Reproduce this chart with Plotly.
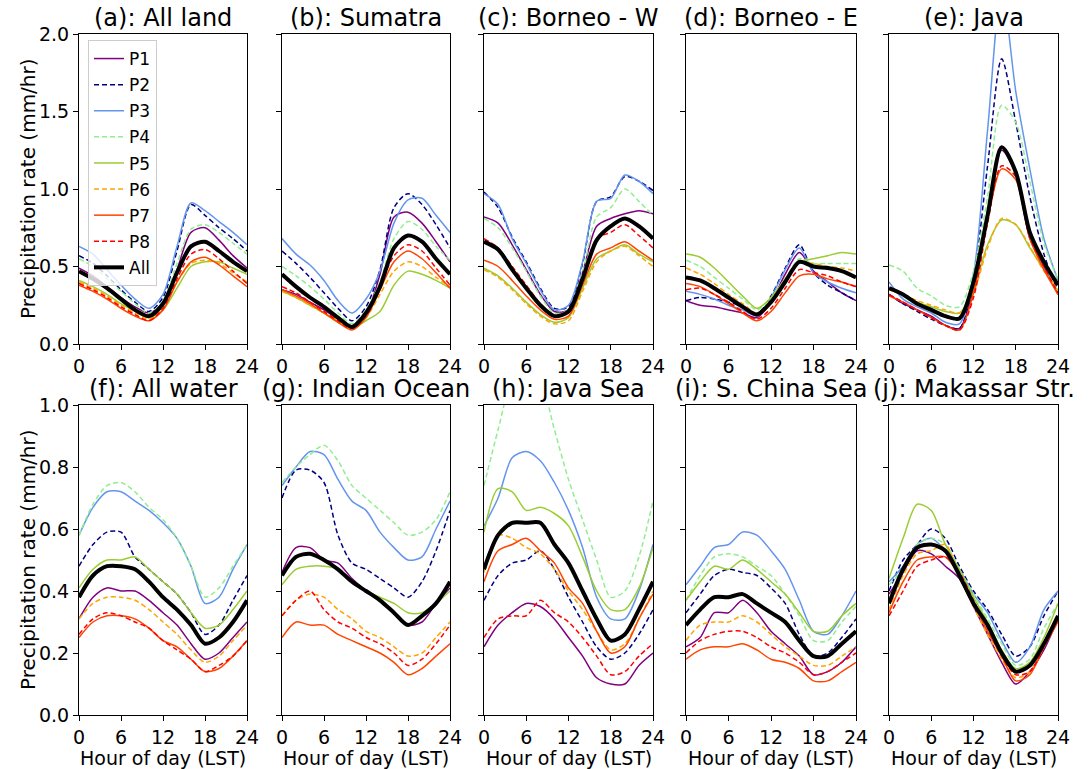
import plotly.graph_objects as go

# ---------------- data ----------------
hours = [0, 2, 4, 6, 8, 10, 12, 14, 16, 18, 20, 22, 24]
series_names = ["P1", "P2", "P3", "P4", "P5", "P6", "P7", "P8", "All"]
panel_titles = ["(a): All land", "(b): Sumatra", "(c): Borneo - W", "(d): Borneo - E", "(e): Java",
                "(f): All water", "(g): Indian Ocean", "(h): Java Sea", "(i): S. China Sea", "(j): Makassar Str."]
x_ticks = [0, 6, 12, 18, 24]
y_ticks_top = [0.0, 0.5, 1.0, 1.5, 2.0]
y_ticks_bottom = [0.0, 0.2, 0.4, 0.6, 0.8, 1.0]

# rows: P1..P8, All
all_land = [
    [0.49, 0.44, 0.37, 0.30, 0.24, 0.20, 0.26, 0.48, 0.72, 0.75, 0.67, 0.57, 0.49],
    [0.57, 0.52, 0.44, 0.35, 0.27, 0.21, 0.30, 0.60, 0.90, 0.83, 0.75, 0.68, 0.60],
    [0.63, 0.58, 0.48, 0.38, 0.29, 0.23, 0.32, 0.63, 0.91, 0.86, 0.79, 0.72, 0.64],
    [0.55, 0.50, 0.42, 0.34, 0.26, 0.20, 0.28, 0.52, 0.74, 0.77, 0.72, 0.65, 0.58],
    [0.41, 0.37, 0.32, 0.26, 0.21, 0.17, 0.22, 0.36, 0.50, 0.53, 0.53, 0.49, 0.45],
    [0.40, 0.36, 0.31, 0.25, 0.20, 0.16, 0.23, 0.40, 0.52, 0.54, 0.52, 0.46, 0.40],
    [0.38, 0.34, 0.29, 0.23, 0.18, 0.15, 0.22, 0.40, 0.53, 0.56, 0.51, 0.44, 0.37],
    [0.39, 0.35, 0.30, 0.24, 0.19, 0.15, 0.23, 0.42, 0.58, 0.61, 0.55, 0.47, 0.39],
    [0.47, 0.42, 0.36, 0.29, 0.22, 0.18, 0.26, 0.46, 0.63, 0.66, 0.60, 0.53, 0.47],
]
sumatra = [
    [0.35, 0.32, 0.27, 0.22, 0.16, 0.11, 0.19, 0.45, 0.82, 0.85, 0.78, 0.66, 0.53],
    [0.60, 0.52, 0.43, 0.33, 0.23, 0.15, 0.24, 0.48, 0.88, 0.97, 0.90, 0.77, 0.62],
    [0.68, 0.58, 0.51, 0.41, 0.28, 0.20, 0.29, 0.47, 0.78, 0.93, 0.94, 0.83, 0.72],
    [0.50, 0.44, 0.37, 0.29, 0.20, 0.13, 0.22, 0.40, 0.68, 0.79, 0.74, 0.63, 0.54],
    [0.34, 0.30, 0.25, 0.20, 0.14, 0.10, 0.15, 0.21, 0.38, 0.47, 0.45, 0.41, 0.36],
    [0.34, 0.30, 0.25, 0.20, 0.15, 0.10, 0.17, 0.32, 0.47, 0.53, 0.50, 0.43, 0.37],
    [0.35, 0.31, 0.26, 0.20, 0.14, 0.09, 0.17, 0.35, 0.53, 0.60, 0.55, 0.46, 0.36],
    [0.37, 0.33, 0.27, 0.21, 0.15, 0.10, 0.18, 0.37, 0.57, 0.64, 0.60, 0.49, 0.38],
    [0.45, 0.37, 0.30, 0.24, 0.17, 0.11, 0.20, 0.37, 0.62, 0.70, 0.66, 0.55, 0.45],
]
borneo_w = [
    [0.82, 0.78, 0.64, 0.48, 0.32, 0.21, 0.22, 0.46, 0.76, 0.81, 0.84, 0.86, 0.84],
    [0.98, 0.88, 0.69, 0.53, 0.36, 0.23, 0.24, 0.52, 0.92, 0.95, 1.08, 1.05, 0.99],
    [0.97, 0.90, 0.68, 0.52, 0.35, 0.22, 0.25, 0.53, 0.92, 0.94, 1.09, 1.05, 0.97],
    [0.81, 0.75, 0.62, 0.47, 0.31, 0.20, 0.22, 0.46, 0.82, 0.88, 1.00, 0.92, 0.83],
    [0.49, 0.44, 0.36, 0.27, 0.19, 0.14, 0.17, 0.36, 0.55, 0.60, 0.64, 0.58, 0.53],
    [0.48, 0.43, 0.35, 0.26, 0.18, 0.13, 0.15, 0.34, 0.53, 0.60, 0.63, 0.57, 0.50],
    [0.54, 0.50, 0.41, 0.31, 0.22, 0.16, 0.18, 0.38, 0.58, 0.62, 0.66, 0.60, 0.54],
    [0.68, 0.62, 0.50, 0.38, 0.26, 0.18, 0.20, 0.43, 0.68, 0.72, 0.77, 0.70, 0.62],
    [0.66, 0.61, 0.48, 0.36, 0.25, 0.18, 0.21, 0.42, 0.67, 0.76, 0.81, 0.76, 0.68],
]
borneo_e = [
    [0.28, 0.25, 0.24, 0.22, 0.20, 0.17, 0.27, 0.45, 0.59, 0.47, 0.40, 0.33, 0.28],
    [0.28, 0.30, 0.29, 0.27, 0.24, 0.19, 0.31, 0.49, 0.64, 0.46, 0.38, 0.33, 0.28],
    [0.34, 0.32, 0.29, 0.25, 0.22, 0.18, 0.30, 0.48, 0.62, 0.46, 0.40, 0.36, 0.33],
    [0.54, 0.50, 0.43, 0.36, 0.29, 0.22, 0.29, 0.42, 0.55, 0.52, 0.52, 0.52, 0.52],
    [0.58, 0.56, 0.49, 0.40, 0.31, 0.23, 0.30, 0.42, 0.53, 0.55, 0.57, 0.59, 0.58],
    [0.49, 0.45, 0.39, 0.32, 0.26, 0.20, 0.27, 0.40, 0.52, 0.52, 0.50, 0.49, 0.47],
    [0.39, 0.37, 0.32, 0.26, 0.20, 0.15, 0.21, 0.33, 0.44, 0.45, 0.42, 0.40, 0.37],
    [0.35, 0.36, 0.32, 0.27, 0.21, 0.16, 0.23, 0.36, 0.48, 0.46, 0.44, 0.40, 0.37],
    [0.43, 0.41, 0.36, 0.30, 0.24, 0.19, 0.27, 0.40, 0.53, 0.50, 0.49, 0.47, 0.43],
]
java = [
    [0.32, 0.26, 0.22, 0.18, 0.12, 0.10, 0.35, 0.85, 1.25, 1.10, 0.68, 0.50, 0.32],
    [0.32, 0.26, 0.21, 0.16, 0.12, 0.10, 0.42, 1.15, 1.84, 1.43, 0.95, 0.58, 0.33],
    [0.40, 0.29, 0.24, 0.20, 0.14, 0.13, 0.45, 1.38, 2.30, 1.63, 1.13, 0.68, 0.41],
    [0.51, 0.47, 0.36, 0.31, 0.25, 0.24, 0.47, 0.95, 1.54, 1.43, 1.05, 0.65, 0.42],
    [0.35, 0.32, 0.27, 0.24, 0.21, 0.20, 0.35, 0.64, 0.80, 0.77, 0.62, 0.48, 0.34],
    [0.35, 0.32, 0.28, 0.25, 0.22, 0.20, 0.33, 0.62, 0.81, 0.77, 0.63, 0.47, 0.35],
    [0.31, 0.27, 0.22, 0.17, 0.12, 0.09, 0.33, 0.80, 1.13, 1.06, 0.68, 0.48, 0.32],
    [0.32, 0.27, 0.22, 0.17, 0.12, 0.09, 0.30, 0.78, 1.15, 1.08, 0.69, 0.50, 0.33],
    [0.36, 0.32, 0.26, 0.22, 0.18, 0.165, 0.40, 0.83, 1.27, 1.11, 0.72, 0.53, 0.38],
]
all_water = [
    [0.31, 0.38, 0.41, 0.40, 0.40, 0.37, 0.33, 0.29, 0.23, 0.18, 0.20, 0.25, 0.30],
    [0.48, 0.55, 0.59, 0.59, 0.51, 0.47, 0.43, 0.39, 0.33, 0.26, 0.29, 0.37, 0.45],
    [0.58, 0.67, 0.72, 0.72, 0.69, 0.66, 0.62, 0.57, 0.48, 0.36, 0.38, 0.47, 0.55],
    [0.58, 0.68, 0.74, 0.75, 0.72, 0.67, 0.63, 0.57, 0.48, 0.38, 0.41, 0.48, 0.55],
    [0.41, 0.47, 0.50, 0.50, 0.51, 0.47, 0.43, 0.39, 0.33, 0.28, 0.29, 0.34, 0.40],
    [0.31, 0.36, 0.38, 0.38, 0.37, 0.34, 0.30, 0.26, 0.21, 0.17, 0.19, 0.24, 0.29],
    [0.25, 0.30, 0.32, 0.32, 0.31, 0.28, 0.24, 0.22, 0.18, 0.14, 0.15, 0.19, 0.24],
    [0.26, 0.31, 0.33, 0.32, 0.30, 0.28, 0.24, 0.21, 0.18, 0.14, 0.16, 0.19, 0.24],
    [0.38, 0.45, 0.48, 0.48, 0.47, 0.43, 0.38, 0.34, 0.29, 0.23, 0.25, 0.30, 0.37],
]
indian_ocean = [
    [0.46, 0.54, 0.54, 0.50, 0.49, 0.44, 0.40, 0.37, 0.33, 0.29, 0.30, 0.36, 0.41],
    [0.70, 0.79, 0.79, 0.75, 0.58, 0.49, 0.47, 0.44, 0.41, 0.38, 0.43, 0.53, 0.66],
    [0.74, 0.80, 0.85, 0.84, 0.76, 0.69, 0.66, 0.59, 0.54, 0.50, 0.51, 0.60, 0.69],
    [0.75, 0.80, 0.84, 0.87, 0.82, 0.74, 0.70, 0.66, 0.62, 0.58, 0.59, 0.63, 0.72],
    [0.42, 0.47, 0.48, 0.48, 0.47, 0.43, 0.40, 0.38, 0.36, 0.33, 0.33, 0.36, 0.40],
    [0.32, 0.37, 0.39, 0.38, 0.34, 0.31, 0.27, 0.25, 0.22, 0.19, 0.20, 0.25, 0.30],
    [0.25, 0.30, 0.29, 0.29, 0.26, 0.24, 0.22, 0.20, 0.17, 0.13, 0.15, 0.19, 0.23],
    [0.32, 0.37, 0.40, 0.34, 0.30, 0.28, 0.25, 0.23, 0.20, 0.16, 0.18, 0.23, 0.29],
    [0.45, 0.51, 0.52, 0.50, 0.47, 0.43, 0.40, 0.37, 0.33, 0.29, 0.32, 0.36, 0.43],
]
java_sea = [
    [0.22, 0.29, 0.33, 0.36, 0.35, 0.31, 0.25, 0.19, 0.12, 0.10, 0.10, 0.16, 0.20],
    [0.37, 0.45, 0.49, 0.50, 0.53, 0.47, 0.38, 0.30, 0.22, 0.18, 0.20, 0.26, 0.34],
    [0.61, 0.70, 0.83, 0.85, 0.82, 0.75, 0.66, 0.54, 0.38, 0.31, 0.31, 0.40, 0.55],
    [0.74, 0.92, 1.08, 1.12, 1.08, 0.92, 0.76, 0.63, 0.50, 0.38, 0.40, 0.51, 0.69],
    [0.59, 0.73, 0.72, 0.66, 0.67, 0.65, 0.61, 0.51, 0.40, 0.34, 0.34, 0.41, 0.54],
    [0.46, 0.58, 0.57, 0.54, 0.52, 0.47, 0.40, 0.34, 0.27, 0.21, 0.23, 0.31, 0.40],
    [0.43, 0.53, 0.55, 0.57, 0.53, 0.49, 0.41, 0.36, 0.27, 0.20, 0.22, 0.31, 0.39],
    [0.25, 0.31, 0.32, 0.32, 0.37, 0.33, 0.30, 0.25, 0.19, 0.13, 0.14, 0.19, 0.23],
    [0.47, 0.58, 0.62, 0.62, 0.62, 0.55, 0.49, 0.40, 0.31, 0.24, 0.26, 0.34, 0.43],
]
s_china_sea = [
    [0.22, 0.25, 0.33, 0.33, 0.37, 0.33, 0.27, 0.23, 0.19, 0.13, 0.14, 0.17, 0.22],
    [0.33, 0.39, 0.45, 0.47, 0.46, 0.45, 0.41, 0.36, 0.26, 0.19, 0.20, 0.25, 0.31],
    [0.42, 0.48, 0.54, 0.55, 0.59, 0.58, 0.53, 0.47, 0.37, 0.27, 0.26, 0.32, 0.40],
    [0.37, 0.45, 0.51, 0.52, 0.51, 0.48, 0.45, 0.39, 0.32, 0.24, 0.24, 0.30, 0.35],
    [0.37, 0.43, 0.48, 0.47, 0.50, 0.47, 0.43, 0.39, 0.33, 0.27, 0.27, 0.32, 0.36],
    [0.24, 0.29, 0.30, 0.30, 0.32, 0.30, 0.26, 0.22, 0.19, 0.16, 0.16, 0.19, 0.22],
    [0.18, 0.21, 0.22, 0.22, 0.23, 0.21, 0.18, 0.17, 0.15, 0.11, 0.11, 0.14, 0.17],
    [0.20, 0.24, 0.26, 0.27, 0.27, 0.25, 0.22, 0.20, 0.17, 0.13, 0.14, 0.17, 0.20],
    [0.29, 0.34, 0.38, 0.38, 0.39, 0.36, 0.33, 0.30, 0.24, 0.19, 0.19, 0.23, 0.27],
]
makassar = [
    [0.39, 0.46, 0.53, 0.52, 0.48, 0.44, 0.35, 0.26, 0.17, 0.10, 0.14, 0.21, 0.31],
    [0.40, 0.50, 0.55, 0.60, 0.57, 0.48, 0.40, 0.34, 0.26, 0.19, 0.22, 0.32, 0.40],
    [0.43, 0.48, 0.55, 0.57, 0.53, 0.47, 0.39, 0.33, 0.24, 0.17, 0.22, 0.34, 0.40],
    [0.42, 0.47, 0.55, 0.57, 0.55, 0.47, 0.39, 0.31, 0.23, 0.16, 0.18, 0.28, 0.36],
    [0.44, 0.57, 0.68, 0.66, 0.55, 0.47, 0.38, 0.30, 0.21, 0.15, 0.17, 0.25, 0.36],
    [0.34, 0.45, 0.52, 0.53, 0.55, 0.45, 0.35, 0.26, 0.18, 0.12, 0.14, 0.22, 0.31],
    [0.33, 0.43, 0.50, 0.51, 0.51, 0.45, 0.36, 0.27, 0.19, 0.11, 0.13, 0.22, 0.30],
    [0.32, 0.40, 0.48, 0.50, 0.51, 0.46, 0.37, 0.28, 0.19, 0.13, 0.14, 0.22, 0.31],
    [0.36, 0.47, 0.54, 0.55, 0.53, 0.45, 0.36, 0.29, 0.20, 0.14, 0.16, 0.23, 0.32],
]
panels = [all_land, sumatra, borneo_w, borneo_e, java,
          all_water, indian_ocean, java_sea, s_china_sea, makassar]

# ---------------- styles ----------------
colors = ["purple", "navy", "cornflowerblue", "lightgreen", "yellowgreen",
          "orange", "orangered", "red", "black"]
dashes = ["solid", "5px,3px", "solid", "5px,3px", "solid", "5px,3px", "solid", "5px,3px", "solid"]
widths = [1.5, 1.5, 1.5, 1.5, 1.5, 1.5, 1.5, 1.5, 4]

FONT = "DejaVu Sans"
W, H = 1091, 769
ML, MR, MT, MB = 79, 33, 34, 54
pw, ph = W - ML - MR, H - MT - MB
col_px = [(79, 247), (282, 450), (484, 653), (686, 856), (889, 1058)]
row_px = [(34, 344), (405, 715)]


def xd(a, b):
    return [(a - ML) / pw, (b - ML) / pw]


def yd(top, bot):
    return [(H - MB - bot) / ph, (H - MB - top) / ph]


fig = go.Figure()
annotations = []
layout = {}
for p, (title, vals) in enumerate(zip(panel_titles, panels)):
    r, c = divmod(p, 5)
    n = p + 1
    xa = "x" if n == 1 else f"x{n}"
    ya = "y" if n == 1 else f"y{n}"
    for i, name in enumerate(series_names):
        fig.add_trace(go.Scatter(
            x=hours, y=vals[i], mode="lines", name=name,
            line=dict(color=colors[i], width=widths[i], dash=dashes[i],
                      shape="spline", smoothing=0.8),
            xaxis=xa, yaxis=ya, showlegend=(p == 0), legendgroup=name))
    xdom = xd(*col_px[c])
    ydom = yd(*row_px[r])
    common = dict(showline=True, mirror=True, linecolor="black", linewidth=1,
                  ticks="outside", ticklen=5, tickcolor="black", tickwidth=1,
                  showgrid=False, zeroline=False,
                  tickfont=dict(family=FONT, size=19, color="black"))
    layout[f"xaxis{'' if n == 1 else n}"] = dict(
        domain=xdom, anchor=ya, range=[0, 24], tickvals=x_ticks, **common)
    yt = y_ticks_top if r == 0 else y_ticks_bottom
    layout[f"yaxis{'' if n == 1 else n}"] = dict(
        domain=ydom, anchor=xa, range=[0, 2.0 if r == 0 else 1.0], tickvals=yt,
        tickformat=".1f", showticklabels=(c == 0), **common)
    annotations.append(dict(text=title, x=(xdom[0] + xdom[1]) / 2, y=ydom[1],
                            xref="paper", yref="paper", xanchor="center", yanchor="bottom",
                            yshift=0, showarrow=False,
                            font=dict(family=FONT, size=24, color="black")))
    if r == 1:
        annotations.append(dict(text="Hour of day (LST)", x=(xdom[0] + xdom[1]) / 2,
                                y=(H - MB - 758) / ph, xref="paper", yref="paper",
                                xanchor="center", yanchor="middle", showarrow=False,
                                font=dict(family=FONT, size=19, color="black")))
    if c == 0:
        annotations.append(dict(text="Precipitation rate (mm/hr)", x=(28 - ML) / pw,
                                y=(ydom[0] + ydom[1]) / 2, xref="paper", yref="paper",
                                xanchor="center", yanchor="middle", textangle=-90,
                                showarrow=False,
                                font=dict(family=FONT, size=20, color="black")))

fig.update_layout(
    width=W, height=H, autosize=False,
    margin=dict(l=ML, r=MR, t=MT, b=MB),
    paper_bgcolor="white", plot_bgcolor="white",
    font=dict(family=FONT, color="black"),
    legend=dict(x=(88 - ML) / pw, y=(H - MB - 40) / ph, xanchor="left", yanchor="top",
                bgcolor="rgba(255,255,255,0.8)", bordercolor="#cccccc", borderwidth=1,
                font=dict(family=FONT, size=17, color="black"), tracegroupgap=1),
    annotations=annotations,
    **layout,
)

fig.write_html("out.html")
